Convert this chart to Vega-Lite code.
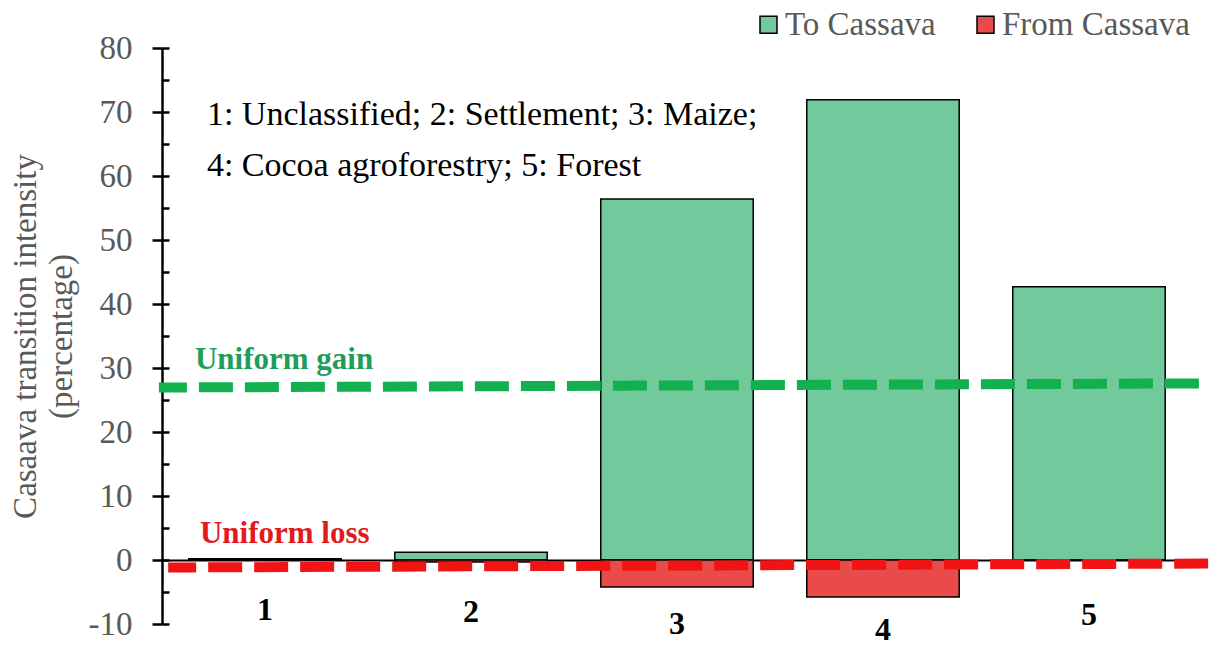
{
  "$schema": "https://vega.github.io/schema/vega-lite/v6.json",
  "width": 1030,
  "height": 576,
  "autosize": {"type": "none"},
  "padding": {"left": 162, "top": 48, "right": 33, "bottom": 23},
  "background": "white",
  "config": {"view": {"stroke": null}, "font": "Liberation Serif"},
  "datasets": {
    "bars": [
      {"cat": "1", "series": "To Cassava", "value": 0.2},
      {"cat": "1", "series": "From Cassava", "value": 0},
      {"cat": "2", "series": "To Cassava", "value": 1.2},
      {"cat": "2", "series": "From Cassava", "value": -0.3},
      {"cat": "3", "series": "To Cassava", "value": 56.4},
      {"cat": "3", "series": "From Cassava", "value": -4.2},
      {"cat": "4", "series": "To Cassava", "value": 71.9},
      {"cat": "4", "series": "From Cassava", "value": -5.8},
      {"cat": "5", "series": "To Cassava", "value": 42.7},
      {"cat": "5", "series": "From Cassava", "value": 0}
    ],
    "gain": [
      {"p": -0.015, "y": 26.95},
      {"p": 5.053, "y": 27.6}
    ],
    "loss": [
      {"p": 0.03, "y": -1.17},
      {"p": 5.11, "y": -0.55}
    ],
    "notes": [
      {"p": 0.218, "y": 68.0, "t": "1: Unclassified; 2: Settlement; 3: Maize;"},
      {"p": 0.218, "y": 60.0, "t": "4: Cocoa agroforestry; 5: Forest"}
    ],
    "gainLabel": [{"p": 0.16, "y": 29.9, "t": "Uniform gain"}],
    "lossLabel": [{"p": 0.184, "y": 2.6, "t": "Uniform loss"}]
  },
  "layer": [
    {
      "data": {"name": "bars"},
      "mark": {"type": "bar", "stroke": "black", "strokeWidth": 1.5},
      "encoding": {
        "x": {
          "field": "cat",
          "type": "nominal",
          "scale": {"paddingInner": 0.26, "paddingOuter": 0.13},
          "axis": {
            "title": null,
            "offset": -64,
            "ticks": false,
            "domainColor": "black",
            "domainWidth": 2,
            "labelAngle": 0,
            "labelFont": "Liberation Serif",
            "labelFontSize": 32,
            "labelFontWeight": "bold",
            "labelColor": "black",
            "labelPadding": {"expr": "datum.value == '4' ? 54 : datum.value == '3' ? 48 : datum.value == '5' ? 39 : datum.value == '2' ? 36 : 34"},
            "labelBaseline": "top"
          }
        },
        "y": {
          "field": "value",
          "type": "quantitative",
          "stack": null,
          "scale": {"domain": [-10, 80], "nice": false, "zero": false},
          "axis": {
            "values": [-10, 0, 10, 20, 30, 40, 50, 60, 70, 80],
            "labelExpr": "'' + datum.value",
            "grid": false,
            "tickSize": 10,
            "tickWidth": 2.5,
            "tickColor": "black",
            "domainColor": "black",
            "domainWidth": 2.5,
            "labelFont": "Liberation Serif",
            "labelFontSize": 33,
            "labelColor": "#595959",
            "labelPadding": 20,
            "title": ["Casaava transition intensity", "(percentage)"],
            "titleFont": "Liberation Serif",
            "titleFontSize": 33,
            "titleFontWeight": "normal",
            "titleColor": "#595959",
            "titlePadding": 10,
            "titleLineHeight": 36
          }
        },
        "color": {
          "field": "series",
          "type": "nominal",
          "scale": {"domain": ["To Cassava", "From Cassava"], "range": ["#72c99c", "#e94b4b"]},
          "legend": {
            "title": null,
            "orient": "none",
            "direction": "horizontal",
            "legendX": 590,
            "legendY": -40,
            "symbolType": "square",
            "symbolSize": 289,
            "symbolStrokeColor": "black",
            "symbolStrokeWidth": 1.5,
            "symbolOpacity": 1,
            "labelFont": "Liberation Serif",
            "labelFontSize": 33,
            "labelColor": "#595959",
            "labelOffset": 0,
            "labelLimit": 400,
            "columnPadding": 33,
            "padding": 0
          }
        }
      }
    },
    {
      "data": {"name": "gain"},
      "mark": {"type": "line", "color": "#12b04f", "strokeWidth": 10, "strokeDash": [34, 12], "strokeDashOffset": 6, "strokeCap": "butt"},
      "encoding": {
        "x": {"field": "p", "type": "quantitative", "scale": {"domain": [0, 5], "nice": false, "zero": false}, "axis": null},
        "y": {
          "field": "y",
          "type": "quantitative",
          "scale": {"domain": [-10, 80], "nice": false, "zero": false},
          "axis": {
            "orient": "left",
            "values": [-10, -5, 0, 5, 10, 15, 20, 25, 30, 35, 40, 45, 50, 55, 60, 65, 70, 75, 80],
            "labels": false,
            "domain": false,
            "grid": false,
            "tickSize": -7,
            "tickWidth": 2.5,
            "tickColor": "black",
            "title": null
          }
        }
      }
    },
    {
      "data": {"name": "loss"},
      "mark": {"type": "line", "color": "#f01414", "strokeWidth": 10, "strokeDash": [34, 12], "strokeDashOffset": 6, "strokeCap": "butt"},
      "encoding": {
        "x": {"field": "p", "type": "quantitative", "scale": {"domain": [0, 5], "nice": false, "zero": false}, "axis": null},
        "y": {"field": "y", "type": "quantitative", "scale": {"domain": [-10, 80], "nice": false, "zero": false}, "axis": null}
      }
    },
    {
      "data": {"name": "notes"},
      "mark": {"type": "text", "align": "left", "baseline": "alphabetic", "font": "Liberation Serif", "fontSize": 34, "color": "black"},
      "encoding": {
        "x": {"field": "p", "type": "quantitative", "scale": {"domain": [0, 5], "nice": false, "zero": false}, "axis": null},
        "y": {"field": "y", "type": "quantitative", "scale": {"domain": [-10, 80], "nice": false, "zero": false}, "axis": null},
        "text": {"field": "t"}
      }
    },
    {
      "data": {"name": "gainLabel"},
      "mark": {"type": "text", "align": "left", "baseline": "alphabetic", "font": "Liberation Serif", "fontSize": 31, "fontWeight": "bold", "color": "#1e9e5a"},
      "encoding": {
        "x": {"field": "p", "type": "quantitative", "scale": {"domain": [0, 5], "nice": false, "zero": false}, "axis": null},
        "y": {"field": "y", "type": "quantitative", "scale": {"domain": [-10, 80], "nice": false, "zero": false}, "axis": null},
        "text": {"field": "t"}
      }
    },
    {
      "data": {"name": "lossLabel"},
      "mark": {"type": "text", "align": "left", "baseline": "alphabetic", "font": "Liberation Serif", "fontSize": 31, "fontWeight": "bold", "color": "#e31a1c"},
      "encoding": {
        "x": {"field": "p", "type": "quantitative", "scale": {"domain": [0, 5], "nice": false, "zero": false}, "axis": null},
        "y": {"field": "y", "type": "quantitative", "scale": {"domain": [-10, 80], "nice": false, "zero": false}, "axis": null},
        "text": {"field": "t"}
      }
    }
  ],
  "resolve": {"scale": {"x": "independent", "y": "shared"}, "axis": {"y": "independent"}}
}
